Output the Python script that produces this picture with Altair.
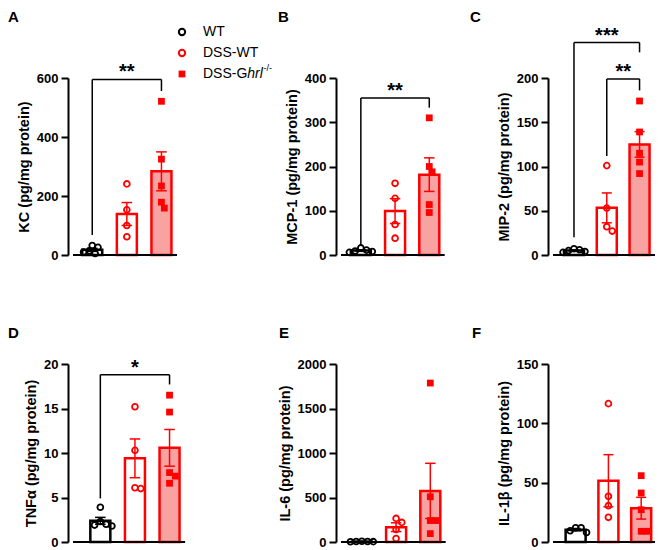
import altair as alt
import pandas as pd

GROUPS = ["WT", "DSS-WT", "DSS-Ghrl-/-"]

# ---- data (pg/mg protein) ----
kc_wt = [32, 26, 14, 10, 5]
kc_dss_wt = [241, 153, 100, 62]
kc_dss_ghrl = [521, 325, 234, 179, 159]

mcp1_wt = [16, 11, 8, 6, 9]
mcp1_dss_wt = [162, 128, 69, 38]
mcp1_dss_ghrl = [310, 200, 188, 114, 96]

mip2_wt = [7, 6, 4, 3, 5]
mip2_dss_wt = [101, 53, 32, 27]
mip2_dss_ghrl = [174, 139, 115, 105, 92]

tnf_wt = [3.9, 2.3, 1.8, 1.9, 2.0]
tnf_dss_wt = [15.2, 10.3, 6.1, 6.0]
tnf_dss_ghrl = [16.5, 14.6, 7.8, 7.4, 6.6]

il6_wt = [8, 5, 4, 6, 3]
il6_dss_wt = [265, 220, 140, 40]
il6_dss_ghrl = [1786, 508, 241, 241, 94]

il1b_wt = [12, 9.5, 8, 12]
il1b_dss_wt = [116.6, 38.5, 30.6, 20.8]
il1b_dss_ghrl = [55.9, 41.3, 27.2, 9, 9]

PANEL_LETTERS = ["A", "B", "C", "D", "E", "F"]
Y_TITLES = ["KC (pg/mg protein)", "MCP-1 (pg/mg protein)", "MIP-2 (pg/mg protein)",
            "TNFα (pg/mg protein)", "IL-6 (pg/mg protein)", "IL-1β (pg/mg protein)"]
Y_MAX = [600, 400, 200, 20, 2000, 150]
Y_TICKS = [[0, 200, 400, 600], [0, 100, 200, 300, 400], [0, 50, 100, 150, 200],
           [0, 5, 10, 15, 20], [0, 500, 1000, 1500, 2000], [0, 50, 100, 150]]
SERIES = [
    [kc_wt, kc_dss_wt, kc_dss_ghrl],
    [mcp1_wt, mcp1_dss_wt, mcp1_dss_ghrl],
    [mip2_wt, mip2_dss_wt, mip2_dss_ghrl],
    [tnf_wt, tnf_dss_wt, tnf_dss_ghrl],
    [il6_wt, il6_dss_wt, il6_dss_ghrl],
    [il1b_wt, il1b_dss_wt, il1b_dss_ghrl],
]
# significance brackets: (from group, to group, top, left leg end, right leg end, label)
SIG = [
    [(0, 2, 595, 68, 556, "**")],
    [(0, 2, 355, 22, 333, "**")],
    [(0, 2, 240, 20, 229, "***"), (1, 2, 199, 112, 186, "**")],
    [(0, 2, 18.8, 4.9, 17.7, "*")],
    [],
    [],
]

# ---- style / layout ----
FONT = "Liberation Sans"
RED = "#ff0000"
PINK = "#f8a2a2"
STEP = 36.0
CAP = 5.5 / STEP
COL_W = [258, 202, 112]
ROW_H = [177, 178]
X0 = [-0.556, -0.58, -0.64, -0.79, -0.61, -0.69]
LETTER_XY = [(-60, -68), (-58, -68), (-78, -68), (-60, -38), (-57, -38), (-76, -38)]

stroke_scale = alt.Scale(domain=GROUPS, range=["#000000", RED, RED])
fill_bar_scale = alt.Scale(domain=GROUPS, range=["#ffffff", "#ffffff", PINK])


def swarm(vals, ymax, h, diam=6.0, step=3.0):
    py = [h * (1 - v / ymax) for v in vals]
    order = sorted(range(len(vals)), key=lambda i: py[i])
    placed = []
    dx = [0.0] * len(vals)
    for i in order:
        k = 0
        found = None
        while found is None:
            cands = [0.0] if k == 0 else [k * step, -k * step]
            for c in cands:
                if all((c - px) ** 2 + (py[i] - pyy) ** 2 >= diam ** 2 for px, pyy in placed):
                    found = c
                    break
            k += 1
        dx[i] = found
        placed.append((found, py[i]))
    return [d / STEP for d in dx]


def make_panel(idx):
    col = idx % 3
    row = idx // 3
    width = COL_W[col]
    height = ROW_H[row]
    x0 = X0[idx]
    x1 = x0 + width / STEP
    xend = x1 if col == 2 else 2.45
    ymax = Y_MAX[idx]
    xs = alt.Scale(domain=[x0, x1], nice=False, zero=False)
    ys = alt.Scale(domain=[0, ymax], nice=False, zero=True)

    bar_rows, err_rows, pt_rows = [], [], []
    for g, (name, vals) in enumerate(zip(GROUPS, SERIES[idx])):
        n = len(vals)
        m = sum(vals) / n
        sd = (sum((v - m) ** 2 for v in vals) / (n - 1)) ** 0.5
        se = sd / n ** 0.5
        bar_rows.append({"g": g, "group": name, "mean": m})
        err_rows.append({"g": g, "group": name, "lo": m - se, "hi": m + se,
                         "cl": g - CAP, "cr": g + CAP})
        for v, d in zip(vals, swarm(vals, ymax, height)):
            pt_rows.append({"x": g + d, "group": name, "value": v})
    df_bar = pd.DataFrame(bar_rows)
    df_err = pd.DataFrame(err_rows)
    df_pt = pd.DataFrame(pt_rows)

    yaxis = alt.Axis(values=Y_TICKS[idx], title=Y_TITLES[idx], format="d")
    bars = alt.Chart(df_bar).mark_bar(orient="vertical", size=20, strokeWidth=2.5).encode(
        x=alt.X("g:Q", scale=xs, axis=None),
        y=alt.Y("mean:Q", scale=ys, axis=yaxis),
        stroke=alt.Stroke("group:N", scale=stroke_scale, legend=None),
        fill=alt.Fill("group:N", scale=fill_bar_scale, legend=None),
    )
    err_v = alt.Chart(df_err).mark_rule(strokeWidth=1.5).encode(
        x=alt.X("g:Q", scale=xs), y=alt.Y("lo:Q", scale=ys), y2="hi:Q",
        stroke=alt.Stroke("group:N", scale=stroke_scale, legend=None))
    err_t = alt.Chart(df_err).mark_rule(strokeWidth=1.5).encode(
        x=alt.X("cl:Q", scale=xs), x2="cr:Q", y=alt.Y("hi:Q", scale=ys),
        stroke=alt.Stroke("group:N", scale=stroke_scale, legend=None))
    err_b = alt.Chart(df_err).mark_rule(strokeWidth=1.5).encode(
        x=alt.X("cl:Q", scale=xs), x2="cr:Q", y=alt.Y("lo:Q", scale=ys),
        stroke=alt.Stroke("group:N", scale=stroke_scale, legend=None))

    pts_wt = alt.Chart(df_pt[df_pt.group == GROUPS[0]]).mark_point(
        shape="circle", filled=False, color="black", size=34, strokeWidth=1.8, opacity=1).encode(
        x=alt.X("x:Q", scale=xs), y=alt.Y("value:Q", scale=ys))
    pts_dw = alt.Chart(df_pt[df_pt.group == GROUPS[1]]).mark_point(
        shape="circle", filled=False, color=RED, size=34, strokeWidth=1.8, opacity=1).encode(
        x=alt.X("x:Q", scale=xs), y=alt.Y("value:Q", scale=ys))
    pts_dg = alt.Chart(df_pt[df_pt.group == GROUPS[2]]).mark_point(
        shape="square", filled=True, color=RED, size=46, opacity=1).encode(
        x=alt.X("x:Q", scale=xs), y=alt.Y("value:Q", scale=ys))

    xline = alt.Chart(pd.DataFrame({"a": [x0], "b": [xend], "y": [0]})).mark_rule(
        strokeWidth=2, color="black").encode(
        x=alt.X("a:Q", scale=xs), x2="b:Q", y=alt.Y("y:Q", scale=ys))

    lx, ly = LETTER_XY[idx]
    letter = alt.Chart(pd.DataFrame({"t": [PANEL_LETTERS[idx]]})).mark_text(
        align="left", baseline="top", fontSize=15, fontWeight="bold", color="black").encode(
        x=alt.value(lx), y=alt.value(ly), text="t:N")

    layers = [bars, err_v, err_t, err_b, pts_wt, pts_dw, pts_dg, xline, letter]

    if SIG[idx]:
        seg_rows, lab_rows = [], []
        for (ga, gb, top, ba, bb, lab) in SIG[idx]:
            seg_rows += [{"xa": ga, "xb": gb, "ya": top, "yb": top},
                         {"xa": ga, "xb": ga, "ya": top, "yb": ba},
                         {"xa": gb, "xb": gb, "ya": top, "yb": bb}]
            lab_rows.append({"xm": (ga + gb) / 2, "top": top, "lab": lab})
        segs = alt.Chart(pd.DataFrame(seg_rows)).mark_rule(strokeWidth=1.5, color="black").encode(
            x=alt.X("xa:Q", scale=xs), x2="xb:Q", y=alt.Y("ya:Q", scale=ys), y2="yb:Q")
        labs = alt.Chart(pd.DataFrame(lab_rows)).mark_text(
            fontSize=20, fontWeight="bold", baseline="alphabetic", dy=-1, color="black").encode(
            x=alt.X("xm:Q", scale=xs), y=alt.Y("top:Q", scale=ys), text="lab:N")
        layers += [segs, labs]

    if idx == 0:
        sym_x, txt_x = 114, 135
        rows_y = [-46, -25, -4]
        one = pd.DataFrame({"t": [""]})
        layers.append(alt.Chart(one).mark_point(shape="circle", filled=False, color="black",
                                                size=40, strokeWidth=2, opacity=1).encode(
            x=alt.value(sym_x), y=alt.value(rows_y[0])))
        layers.append(alt.Chart(one).mark_point(shape="circle", filled=False, color=RED,
                                                size=40, strokeWidth=2, opacity=1).encode(
            x=alt.value(sym_x), y=alt.value(rows_y[1])))
        layers.append(alt.Chart(one).mark_point(shape="square", filled=True, color=RED,
                                                size=46, opacity=1).encode(
            x=alt.value(sym_x), y=alt.value(rows_y[2])))
        for i, name in enumerate(["WT", "DSS-WT"]):
            layers.append(alt.Chart(pd.DataFrame({"t": [name]})).mark_text(
                align="left", baseline="middle", fontSize=14, color="black").encode(
                x=alt.value(txt_x), y=alt.value(rows_y[i]), text="t:N"))
        layers.append(alt.Chart(pd.DataFrame({"t": ["DSS-G"]})).mark_text(
            align="left", baseline="middle", fontSize=14, color="black").encode(
            x=alt.value(txt_x), y=alt.value(rows_y[2]), text="t:N"))
        layers.append(alt.Chart(pd.DataFrame({"t": ["hrl"]})).mark_text(
            align="left", baseline="middle", fontSize=14, fontStyle="italic", color="black").encode(
            x=alt.value(txt_x + 44.3), y=alt.value(rows_y[2]), text="t:N"))
        layers.append(alt.Chart(pd.DataFrame({"t": ["-/-"]})).mark_text(
            align="left", baseline="middle", fontSize=9, color="black").encode(
            x=alt.value(txt_x + 60.5), y=alt.value(rows_y[2] - 6), text="t:N"))

    return alt.layer(*layers).properties(width=width, height=height)


panels = [make_panel(i) for i in range(6)]

chart = alt.concat(
    *panels, columns=3, spacing={"row": 109, "column": 10}, bounds="flush", align="each"
).properties(
    padding={"left": 0, "top": 2, "right": 0, "bottom": 0}, background="white"
).configure(font=FONT).configure_view(stroke=None).configure_axis(
    domainColor="black", domainWidth=2, tickColor="black", tickWidth=2, tickSize=7,
    labelPadding=3, labelFontSize=13, labelFontWeight="bold", labelColor="black",
    titleFontSize=14.5, titleFontWeight="bold", titleColor="black", titlePadding=5,
    grid=False, labelFont=FONT, titleFont=FONT,
)

chart.save("out.html", embed_options={"renderer": "svg", "actions": False})
